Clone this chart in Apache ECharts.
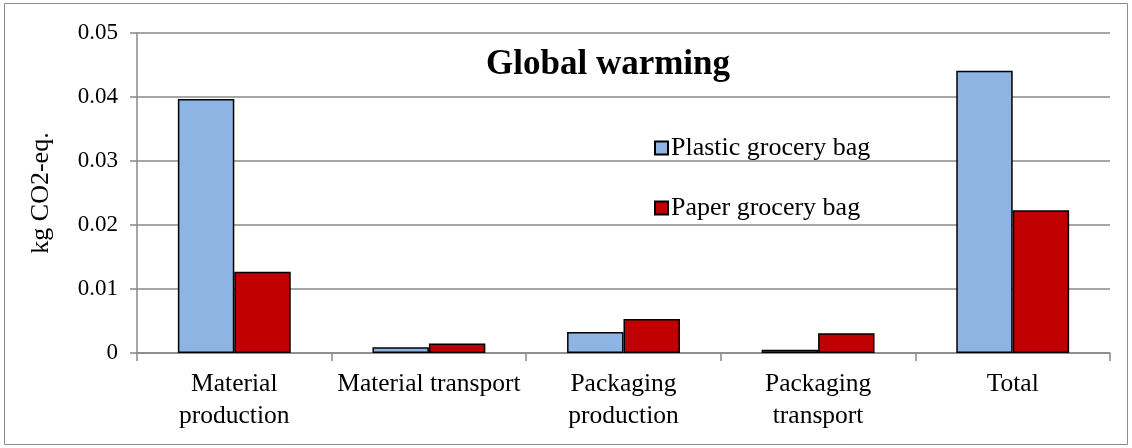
<!DOCTYPE html>
<html>
<head>
<meta charset="utf-8">
<script src="https://cdn.jsdelivr.net/npm/echarts@6/dist/echarts.min.js"></script>
<style>html,body{margin:0;padding:0;background:#fff}#c{width:1132px;height:448px}</style>
</head>
<body>
<div id="c"></div>
<script>
const categories = ['Material\nproduction', 'Material transport', 'Packaging\nproduction', 'Packaging\ntransport', 'Total'];
const plasticBag = [0.0397, 0.0009, 0.0033, 0.0005, 0.0441];
const paperBag = [0.0127, 0.0015, 0.0053, 0.0031, 0.0223];
const seriesNames = ['Plastic grocery bag', 'Paper grocery bag'];
const yTicks = [0, 0.01, 0.02, 0.03, 0.04, 0.05];

const FONT = '"Liberation Serif", "DejaVu Serif", serif';
const chart = echarts.init(document.getElementById('c'));
chart.setOption({
  animation: false,
  textStyle: { fontFamily: FONT },
  graphic: [{
    type: 'rect', shape: { x: 4.5, y: 3.5, width: 1123, height: 441 },
    style: { fill: 'none', stroke: '#8c8c8c', lineWidth: 1 }
  }],
  title: {
    text: 'Global warming', left: 481, top: 42,
    textStyle: { fontFamily: FONT, fontSize: 35, fontWeight: 'bold', color: '#000' }
  },
  legend: {
    orient: 'vertical', left: 649, top: 130, itemGap: 34,
    itemWidth: 13, itemHeight: 13, icon: 'rect',
    textStyle: { fontFamily: FONT, fontSize: 26, lineHeight: 26, color: '#000', padding: [0, 0, 0, -2] },
    data: seriesNames
  },
  grid: { left: 137, right: 22, top: 33, bottom: 95 },
  xAxis: {
    type: 'category', data: categories,
    axisLine: { lineStyle: { color: '#888', width: 1.5 } },
    axisTick: { show: true, interval: 0, length: 8, lineStyle: { color: '#888', width: 1.5 } },
    axisLabel: { interval: 0, fontFamily: FONT, fontSize: 25.5, color: '#000', margin: 15, lineHeight: 32 }
  },
  yAxis: {
    type: 'value', min: 0, max: 0.05, interval: 0.01,
    name: 'kg CO2-eq.', nameLocation: 'middle', nameGap: 83, nameRotate: 90,
    nameTextStyle: { fontFamily: FONT, fontSize: 26, color: '#000' },
    axisLine: { show: true, lineStyle: { color: '#888', width: 1.5 } },
    axisTick: { show: true, length: 7, lineStyle: { color: '#888', width: 1.5 } },
    axisLabel: {
      fontFamily: FONT, fontSize: 23, color: '#000', margin: 19,
      formatter: v => yTicks.includes(+v.toFixed(2)) ? String(+v.toFixed(2)) : ''
    },
    splitLine: { lineStyle: { color: '#888', width: 1.5 } }
  },
  series: [
    {
      name: seriesNames[0], type: 'bar', data: plasticBag,
      barGap: '0%', barCategoryGap: '42%',
      itemStyle: { color: '#8eb4e3', borderColor: '#000', borderWidth: 1.5 }
    },
    {
      name: seriesNames[1], type: 'bar', data: paperBag,
      itemStyle: { color: '#c00000', borderColor: '#000', borderWidth: 1.5 }
    }
  ]
});
</script>
</body>
</html>
